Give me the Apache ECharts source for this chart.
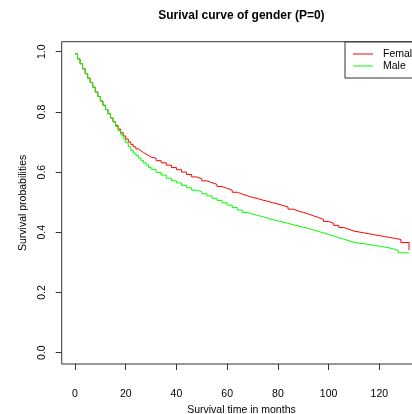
<!DOCTYPE html>
<html>
<head>
<meta charset="utf-8">
<script src="https://cdn.jsdelivr.net/npm/echarts@6/dist/echarts.min.js"></script>
<style>html,body{margin:0;padding:0;background:#fff}#c{width:412px;height:414px}</style>
</head>
<body>
<div id="c"></div>
<script>
const titleText = 'Surival curve of gender (P=0)';
const xAxisName = 'Survival time in months';
const yAxisName = 'Survival probabilities';
const seriesNames = ['Female', 'Male'];
const seriesColors = ['#ff0000', '#00ff00'];
const xTicks = [0, 20, 40, 60, 80, 100, 120];
const yTicks = [0, 0.2, 0.4, 0.6, 0.8, 1.0];

const months = [0,1,2,3,4,5,6,7,8,9,10,11,12,13,14,15,16,17,18,19,20,21,22,23,24,25,26,27,28,29,30,
  32,34,36,38,40,42,44,46,48,50,52,54,56,58,60,62,64,66,68,70,72,74,76,78,80,82,84,86,88,90,
  92,94,96,98,100,102,104,106,108,110,112,114,116,118,120,122,124,126];

const femaleSurv = [0.993,0.976,0.960,0.943,0.927,0.912,0.898,0.882,0.866,0.851,0.836,0.822,0.808,0.794,0.780,0.767,
  0.755,0.743,0.731,0.720,0.710,0.700,0.691,0.684,0.677,0.671,0.665,0.660,0.655,0.650,0.646,
  0.638,0.631,0.623,0.615,0.608,0.600,0.592,0.584,0.578,0.571,0.565,0.559,0.552,0.546,0.540,0.533,0.527,0.521,
  0.516,0.512,0.507,0.503,0.498,0.494,0.489,0.484,0.477,0.471,0.466,0.461,0.455,0.449,0.443,0.436,
  0.430,0.423,0.416,0.410,0.404,0.401,0.398,0.395,0.392,0.389,0.386,0.383,0.380,0.376];
const femaleTailMonths = [128.5, 131.7];
const femaleTailSurv = [0.366, 0.341];

const maleSurv = [0.993,0.976,0.960,0.943,0.927,0.912,0.898,0.882,0.866,0.851,0.836,0.822,0.808,0.794,0.780,0.767,
  0.752,0.738,0.724,0.710,0.697,0.684,0.672,0.663,0.655,0.647,0.639,0.631,0.624,0.616,0.609,
  0.599,0.590,0.580,0.571,0.564,0.556,0.548,0.540,0.535,0.528,0.521,0.513,0.506,0.498,0.490,0.482,0.474,0.466,
  0.461,0.456,0.452,0.447,0.442,0.438,0.434,0.430,0.425,0.421,0.417,0.413,0.408,0.403,0.398,0.393,
  0.388,0.382,0.377,0.372,0.367,0.364,0.362,0.359,0.357,0.354,0.351,0.348,0.344,0.339];
const maleTailMonths = [127.5, 131.7];
const maleTailSurv = [0.332, 0.332];

function pairs(xs, ys, tx, ty) {
  const out = xs.map((x, i) => [x, ys[i]]);
  tx.forEach((x, i) => out.push([x, ty[i]]));
  return out;
}

const FONT = "'Liberation Sans', Arial, sans-serif";
const chart = echarts.init(document.getElementById('c'), null, {renderer: 'canvas'});
chart.setOption({
  animation: false,
  backgroundColor: '#ffffff',
  color: seriesColors,
  graphic: [{
    type: 'text', x: 241.4, y: 16,
    style: {text: titleText, font: 'bold 12px ' + FONT, fill: '#000', textAlign: 'center', textVerticalAlign: 'middle'}
  }],
  grid: {
    left: 61.7, top: 41.7, width: 359.5, height: 322.3,
    outerBoundsMode: 'none', containLabel: false,
    show: true, borderColor: '#333', borderWidth: 1, backgroundColor: 'transparent'
  },
  legend: {
    data: seriesNames.map((n, i) => ({name: n, icon: 'rect', itemStyle: {color: seriesColors[i], borderWidth: 0}})),
    orient: 'vertical', left: 345, top: 42,
    padding: [6, 60, 6, 8], itemGap: 0, itemWidth: 20, itemHeight: 1,
    borderColor: '#333', borderWidth: 1, backgroundColor: '#fff',
    textStyle: {fontFamily: FONT, fontSize: 10.5, lineHeight: 12, color: '#000', padding: [0, 0, 0, 5]}
  },
  xAxis: {
    type: 'value', min: -5.24, max: 136.5,
    name: xAxisName, nameLocation: 'middle', nameGap: 39,
    nameTextStyle: {fontFamily: FONT, fontSize: 10.5, color: '#000'},
    axisLine: {show: false, onZero: false},
    axisTick: {show: true, inside: false, length: 6, lineStyle: {color: '#333'}, customValues: xTicks},
    axisLabel: {fontFamily: FONT, fontSize: 10.5, color: '#000', margin: 25, customValues: xTicks},
    splitLine: {show: false}
  },
  yAxis: {
    type: 'value', min: -0.0375, max: 1.0332,
    name: yAxisName, nameLocation: 'middle', nameGap: 29, nameRotate: 90,
    nameTextStyle: {fontFamily: FONT, fontSize: 10.5, color: '#000'},
    axisLine: {show: false, onZero: false},
    axisTick: {show: true, inside: false, length: 6, lineStyle: {color: '#333'}, customValues: yTicks},
    axisLabel: {fontFamily: FONT, fontSize: 10.5, color: '#000', margin: 14, rotate: 90,
      customValues: yTicks, formatter: v => v.toFixed(1)},
    splitLine: {show: false}
  },
  series: [
    {name: seriesNames[0], type: 'line', step: 'end', symbol: 'none', showSymbol: false,
      lineStyle: {width: 1, color: seriesColors[0]}, itemStyle: {color: seriesColors[0]},
      data: pairs(months, femaleSurv, femaleTailMonths, femaleTailSurv)},
    {name: seriesNames[1], type: 'line', step: 'end', symbol: 'none', showSymbol: false,
      lineStyle: {width: 1, color: seriesColors[1]}, itemStyle: {color: seriesColors[1]},
      data: pairs(months, maleSurv, maleTailMonths, maleTailSurv)}
  ]
});
</script>
</body>
</html>
